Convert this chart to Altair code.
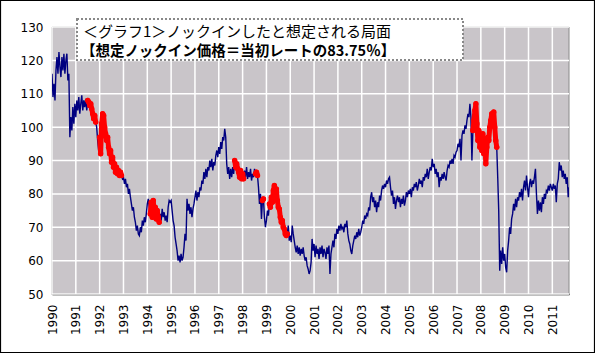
import altair as alt
import pandas as pd

# Semi-monthly readings (24 per year) of the rate
r1990 = [116, 109, 113, 108, 117, 121, 116, 122.5, 118, 115, 121, 117, 122, 116, 120, 122, 114, 116, 97, 103, 99, 106, 101, 107]
r1991 = [103, 108, 105, 109, 104, 107, 109.5, 105, 108, 106, 108.5, 105, 108, 107.5, 106.5, 107, 105.5, 104, 102.5, 103.5, 101.5, 100, 96, 93]
r1992 = [97, 92, 101, 104, 103.5, 100, 98, 96, 97, 94, 92, 93, 89.5, 91, 88, 89, 86.5, 88, 86, 87, 85.5, 86.5, 85.5, 84.5]
r1993 = [85, 83, 84.5, 82, 83, 80, 81.5, 79, 77, 75, 76, 73, 71.5, 69, 70.5, 68, 67.5, 70, 68.5, 72, 70.5, 73, 71.5, 74]
r1994 = [77, 78.5, 76, 74, 77.5, 73, 78, 74.5, 76, 72.5, 75, 73, 71.5, 74, 72, 75.5, 73, 74.5, 72, 73.5, 71.5, 76, 78, 77.5]
r1995 = [78, 75, 72, 70.5, 67, 65, 63, 60, 61.5, 59.5, 62, 60, 61, 64, 68, 66, 78.5, 75, 77, 74, 76, 73, 75.5, 77]
r1996 = [79, 81, 78, 80.5, 79, 82, 81, 84, 83, 86.5, 84.5, 87.5, 85, 88, 87, 90, 88, 90.5, 87, 89.5, 88.5, 91.5, 93, 91]
r1997 = [94, 92, 95.5, 93.5, 97, 96, 99.5, 97, 89, 86, 88, 84.5, 87.5, 85, 88, 86, 90, 88, 89, 87.5, 86.5, 85, 87, 84.5]
r1998 = [86, 84.5, 87, 85, 88, 84.5, 86.5, 85, 87.5, 84, 86, 85, 87.5, 86, 86.5, 85.5, 82, 77, 80, 72.5, 78, 78.5, 73, 70]
r1999 = [72, 75, 73.5, 77, 76, 79, 77.5, 81, 82.5, 80, 81.5, 78, 76, 75.5, 73, 71.5, 72, 70, 69.5, 68, 67.5, 68, 70.5, 66]
r2000 = [67.5, 65.5, 70.5, 68, 66, 64, 62.5, 64.5, 62, 64, 61.5, 63.5, 62, 64, 61.5, 60, 61, 58.5, 57.5, 56, 57, 59.5, 66.5, 63]
r2001 = [65, 61, 64.5, 62, 63.5, 60.5, 64, 62, 64.5, 61, 63.5, 62.5, 60.5, 64, 62, 64.5, 56, 62, 64, 66, 64, 68, 66.5, 69.5]
r2002 = [68, 70.5, 69, 71, 69.5, 70, 68.5, 71, 70, 72, 68, 66, 65, 63, 62, 64.5, 66, 67.5, 66.5, 68.5, 67, 69.5, 67.5, 68.5]
r2003 = [70, 72, 71, 73.5, 72.5, 74, 73.5, 76, 75, 79, 80.5, 77.5, 79, 76, 78, 74.5, 77.5, 76, 79.5, 78, 81, 82.5, 81.5, 83]
r2004 = [82, 84, 83, 84.5, 85, 82, 79.5, 81, 77, 79, 75.5, 78, 79.5, 77.5, 79, 76, 78.5, 77, 79.5, 76.5, 78, 80.5, 79, 81]
r2005 = [80, 81.5, 79, 82, 81, 83, 82, 83.5, 81, 82.5, 84.5, 83, 84, 82, 85, 84, 86, 85, 87.5, 84.5, 86.5, 88, 87, 90.5]
r2006 = [88, 89, 86, 87.5, 85, 86.5, 82, 85, 84, 86, 84.5, 86.5, 85, 84, 87, 88.5, 88, 90, 89, 90.5, 89, 91.5, 91, 92.5]
r2007 = [93, 95, 94, 96.5, 90, 97.5, 99, 98, 100.5, 99.5, 102, 104, 103, 107, 103, 90, 99, 102, 105, 107, 101, 96, 99, 94]
r2008 = [97, 93, 98, 92, 95, 89, 94, 97, 96, 100, 102, 104, 103, 104.5, 100, 96, 94, 85, 75, 57, 63, 59, 64, 60]
r2009 = [62, 58, 56.5, 63, 66, 70, 68, 72.5, 74, 77, 75, 78.5, 76, 79, 78, 80.5, 79, 81.5, 78, 82, 84, 81, 85.5, 82]
r2010 = [79, 83, 84.5, 82, 84, 83, 85, 87.5, 80, 74, 78, 75, 77.5, 74.5, 79, 77, 80, 78.5, 81, 80.5, 82.5, 81, 83, 82]
r2011 = [81, 83, 81.5, 82.5, 77.5, 83, 84.5, 89.5, 87, 88.5, 85, 87, 84.5, 86, 83, 85, 79, 82]

yearly = [r1990, r1991, r1992, r1993, r1994, r1995, r1996, r1997, r1998, r1999, r2000,
          r2001, r2002, r2003, r2004, r2005, r2006, r2007, r2008, r2009, r2010, r2011]
first_year = 1990

# Periods in which knock-in is assumed (decimal years)
ki_start = [1991.49, 1991.98, 1994.12, 1997.63, 1998.52, 1998.80, 1999.10, 2007.64]
ki_end = [1991.87, 1992.95, 1994.52, 1998.08, 1998.66, 1998.90, 1999.90, 2008.68]

year_ticks = list(range(1990, 2012))
y_ticks = list(range(50, 131, 10))

title1 = "＜グラフ1＞ノックインしたと想定される局面"
title2 = "【想定ノックイン価格＝当初レートの83.75％】"

rows = []
for k, arr in enumerate(yearly):
    for i, v in enumerate(arr):
        t = first_year + k + i / 24
        seg = -1
        for j, (s, e) in enumerate(zip(ki_start, ki_end)):
            if s <= t <= e:
                seg = j
        rows.append({"t": t, "rate": v, "seg": seg})
df = pd.DataFrame(rows)
df_red = df[df["seg"] >= 0]
df_vgrid = pd.DataFrame({"t": [float(v) for v in year_ticks]})
df_hgrid = pd.DataFrame({"rate": [float(v) for v in y_ticks]})

W, H = 517, 267

x_axis = alt.Axis(values=year_ticks, format="d", labelAngle=270, ticks=False,
                  labelPadding=10, labelFontSize=12, labelFont="DejaVu Sans",
                  labelColor="#000000", domainColor="#000000", domainWidth=1.5,
                  grid=False, labelOverlap=False, title=None, labelFlush=False)
y_axis = alt.Axis(values=y_ticks, ticks=False, labelPadding=9, labelFontSize=12,
                  labelFont="DejaVu Sans", labelColor="#000000", domainColor="#000000",
                  domainWidth=1.5, grid=False, labelOverlap=False, title=None)
x_scale = alt.Scale(domain=[1990, 2011.7], nice=False, zero=False)
y_scale = alt.Scale(domain=[50, 130], nice=False, zero=False)


def xs():
    return alt.X("t:Q", scale=x_scale, axis=x_axis)


def ys():
    return alt.Y("rate:Q", scale=y_scale, axis=y_axis)


one = df.head(1)
plot_bg = alt.Chart(one).mark_rect(color="#C9C5C9", stroke="#8A8A8A", strokeWidth=1).encode(
    x=alt.value(0), x2=alt.value(W), y=alt.value(0), y2=alt.value(H))
vgrid = alt.Chart(df_vgrid).mark_rule(stroke="white", strokeWidth=1.5, strokeOpacity=1).encode(
    x=xs(), y=alt.value(0), y2=alt.value(H))
hgrid = alt.Chart(df_hgrid).mark_rule(stroke="white", strokeWidth=1.5, strokeOpacity=1).encode(
    y=ys(), x=alt.value(0), x2=alt.value(W))

line = alt.Chart(df).mark_line(color="#000080", strokeWidth=1.4, clip=True).encode(x=xs(), y=ys())
red_line = alt.Chart(df_red).mark_line(color="#FF0000", strokeWidth=5, strokeCap="round",
                                       strokeJoin="round").encode(x=xs(), y=ys(), detail="seg:N")
pts = alt.Chart(df_red).mark_circle(color="#FF0000", size=30, opacity=1).encode(x=xs(), y=ys())

box = alt.Chart(one).mark_rect(fill="#FFFFFF", stroke="#888888", strokeWidth=2,
                               strokeDash=[2, 2]).encode(
    x=alt.value(25), x2=alt.value(411), y=alt.value(-8), y2=alt.value(33))
t1 = alt.Chart(one).mark_text(text=title1, align="left", baseline="middle", fontSize=15,
                              font="Noto Sans CJK JP", color="#000000").encode(
    x=alt.value(31), y=alt.value(5))
t2 = alt.Chart(one).mark_text(text=title2, align="left", baseline="middle", fontSize=14.5,
                              fontWeight="bold", font="Noto Sans CJK JP", color="#000000").encode(
    x=alt.value(29), y=alt.value(25))
frame = alt.Chart(one).mark_rect(fillOpacity=0, stroke="#000000", strokeWidth=1.2).encode(
    x=alt.value(-51.5), x2=alt.value(W + 25.5), y=alt.value(-26.5), y2=alt.value(H + 58.5))

chart = alt.layer(plot_bg, vgrid, hgrid, line, red_line, pts, box, t1, t2, frame).properties(
    width=W, height=H, autosize=alt.AutoSizeParams(type="none"),
    padding={"left": 52, "top": 27, "right": 26, "bottom": 59},
    background="#FFFFFF",
).configure_view(strokeWidth=0)

chart.save("out.html", embed_options={"renderer": "svg", "actions": False})
